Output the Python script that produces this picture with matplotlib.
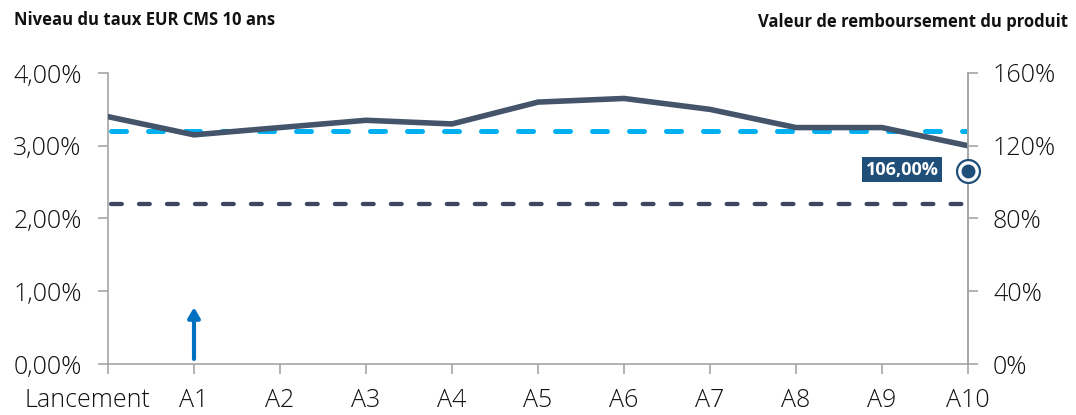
import matplotlib
matplotlib.use("Agg")
import matplotlib.pyplot as plt
from matplotlib.ticker import FuncFormatter
from matplotlib.transforms import ScaledTranslation

categories = ["Lancement", "A1", "A2", "A3", "A4", "A5", "A6", "A7", "A8", "A9", "A10"]
cms_rate = [3.40, 3.15, 3.25, 3.35, 3.30, 3.60, 3.65, 3.50, 3.25, 3.25, 3.00]
upper_barrier = 3.20
lower_barrier = 2.20
redemption_value = 106.0
redemption_label = "106,00%"
left_ticks = [0, 1, 2, 3, 4]
right_ticks = [0, 40, 80, 120, 160]

plt.rcParams['font.family'] = ['Open Sans', 'DejaVu Sans']

fig = plt.figure(figsize=(10.76, 4.15), dpi=100)
ax = fig.add_axes([108/1076, 1-364/415, 860/1076, 291/415])
x = list(range(len(categories)))

gray = "#A6A6A6"
dark = "#44546A"

ax.plot([0.03, 10], [upper_barrier]*2, color="#00B0F0", lw=3.6, ls=(0, (3.0, 4.4)),
        dash_capstyle='round', zorder=2)
ax.plot([0.03, 9.93], [lower_barrier]*2, color="#3F4660", lw=3.1, ls=(0, (2.5, 4.0)),
        dash_capstyle='round', zorder=2)
ax.plot(x, cms_rate, color=dark, lw=4, zorder=3, solid_joinstyle='miter')

ax.set_xlim(0, 10)
ax.set_ylim(0, 4)
ax.set_xticks(x)
ax.set_xticklabels(categories)
ax.set_yticks(left_ticks)
ax.yaxis.set_major_formatter(FuncFormatter(lambda v, p: f"{v:.2f}".replace(".", ",") + "%"))

ax.spines["top"].set_visible(False)
for s in ["left", "bottom", "right"]:
    ax.spines[s].set_color(gray)
    ax.spines[s].set_linewidth(1.2)
ax.tick_params(axis="both", colors=gray, labelcolor="#111111", length=7, width=1.2, labelsize=18)
ax.tick_params(axis="x", pad=10)
ax.tick_params(axis="y", pad=12)
for lab in ax.get_xticklabels() + ax.get_yticklabels():
    lab.set_fontweight("light")
first = ax.get_xticklabels()[0]
first.set_transform(first.get_transform() + ScaledTranslation(-21/100, 0, fig.dpi_scale_trans))

ax2 = ax.twinx()
ax2.set_ylim(0, 160)
ax2.set_yticks(right_ticks)
ax2.yaxis.set_major_formatter(FuncFormatter(lambda v, p: f"{v:.0f}%"))
ax2.spines["top"].set_visible(False)
ax2.spines["left"].set_visible(False)
ax2.spines["bottom"].set_visible(False)
ax2.spines["right"].set_color(gray)
ax2.spines["right"].set_linewidth(1.2)
ax2.tick_params(axis="y", colors=gray, labelcolor="#111111", length=7, width=1.2, labelsize=18, pad=11)
for lab in ax2.get_yticklabels():
    lab.set_fontweight("light")

ax2.plot([10], [redemption_value], marker="o", ms=16.5, mfc="white", mec="#1F4E79", mew=1.6, clip_on=False, zorder=5)
ax2.plot([10], [redemption_value], marker="o", ms=9, mfc="#1F4E79", mec="#1F4E79", clip_on=False, zorder=6)
ax2.annotate(redemption_label, xy=(10, redemption_value), xytext=(-21, 1), textcoords="offset points",
             ha="right", va="center", fontsize=13, fontweight="bold", color="white",
             bbox=dict(boxstyle="square,pad=0.2", fc="#1F4E79", ec="none"), zorder=6)

ax.annotate("", xy=(1, 0.78), xytext=(1, 0.07),
            arrowprops=dict(arrowstyle="-|>,head_width=0.35,head_length=0.6", color="#0070C0", lw=3, shrinkA=0, shrinkB=0))

fig.text(14/1076, 1-20/415, "Niveau du taux EUR CMS 10 ans", fontsize=12, fontweight="bold", ha="left", va="center", color="#111111")
fig.text(1068/1076, 1-22/415, "Valeur de remboursement du produit", fontsize=12, fontweight="bold", ha="right", va="center", color="#111111")

fig.savefig("out.png", dpi=100)
